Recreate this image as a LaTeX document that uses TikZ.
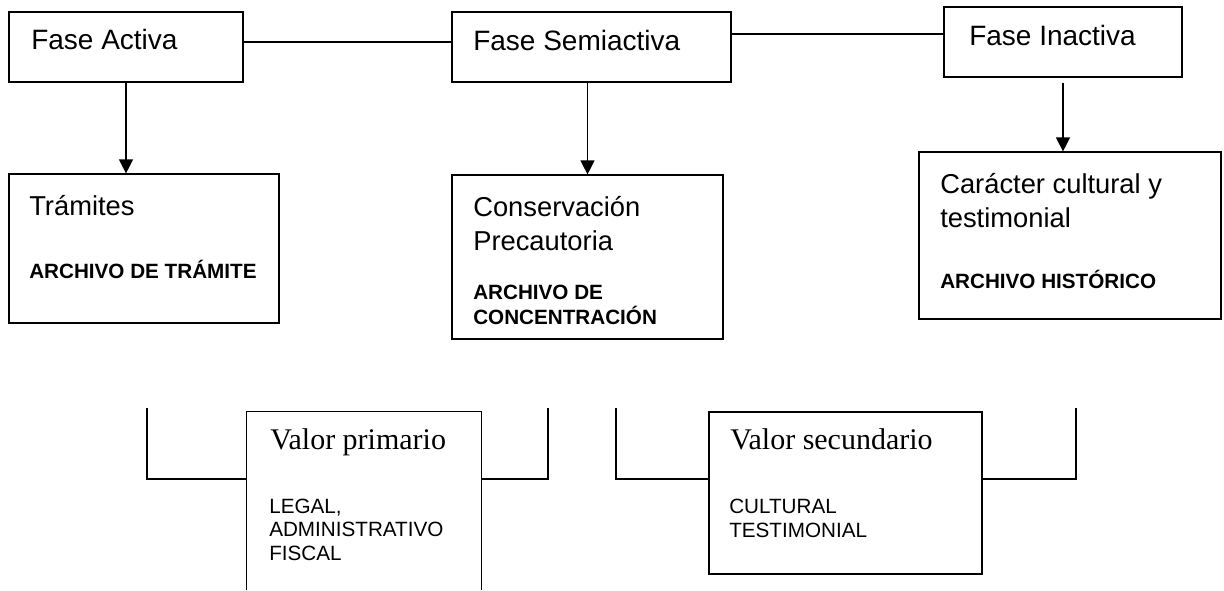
\documentclass[tikz,border=0pt]{standalone}
\usepackage{fontspec}
\setmainfont{Liberation Serif}
\setsansfont{Liberation Sans}
\usetikzlibrary{arrows.meta}
\usetikzlibrary{fit}

\tikzset{
  caja/.style={draw, line width=0.9pt, inner sep=0pt},
  linea/.style={line width=0.9pt},
  flecha/.style={line width=0.9pt, -{Triangle[length=10.5pt,width=10.5pt]}},
  fase/.style={anchor=base west, inner sep=0pt, font=\sffamily\fontsize{21}{26}\selectfont},
  titulo/.style={anchor=base west, inner sep=0pt, align=left, font=\sffamily\fontsize{20.5}{25.5}\selectfont},
  archivo/.style={anchor=base west, inner sep=0pt, align=left, font=\sffamily\bfseries\fontsize{15.5}{18.75}\selectfont},
  valor/.style={anchor=base west, inner sep=0pt, font=\rmfamily\fontsize{22.5}{26}\selectfont},
  detalle/.style={anchor=base west, inner sep=0pt, align=left, font=\sffamily\fontsize{15.5}{17.5}\selectfont}
}

\begin{document}
\begin{tikzpicture}[x=0.75pt,y=0.75pt,yscale=-1,xscale=1]
	\useasboundingbox (0,0) rectangle (1224,590);

	%Shape: Rectangle [fases]
	\node (activa) [caja, fit={(9,12) (243,82)}] {};
	\node (semiactiva) [caja, fit={(452,12) (731,82)}] {};
	\node (inactiva) [caja, fit={(944,7) (1182,77)}] {};
	%Shape: Rectangle [archivos]
	\node (tramites) [caja, fit={(9,174) (279,323)}] {};
	\node (concentracion) [caja, fit={(452,175) (723,339)}] {};
	\node (historico) [caja, fit={(919,152) (1221,319)}] {};
	%Shape: Rectangle [valores]
	\node (primario) [inner sep=0pt, fit={(247,412) (481,590)}] {};
	\draw [linea] (primario.south west) |- (primario.north east) -- (primario.south east);
	\node (secundario) [caja, fit={(709,412) (982,574)}] {};

	%Straight Lines [entre fases]
	\draw [linea] ([yshift=-3.75pt]activa.east) -- ([yshift=-3.75pt]semiactiva.west);
	\draw [linea] ([yshift=-9.75pt]semiactiva.east) -- ([yshift=-6pt]inactiva.west);
	%Straight Lines [flechas]
	\draw [flecha] (activa.south) -- (activa.south |- tramites.north);
	\draw [flecha] (concentracion.north |- semiactiva.south) -- (concentracion.north);
	\draw [flecha] ([yshift=3.75pt]inactiva.south) -- (inactiva.south |- historico.north);

	%Straight Lines [corchetes]
	\coordinate (c1) at (147,408);
	\coordinate (c2) at (548,408);
	\coordinate (c3) at (616,408);
	\coordinate (c4) at (1076,408);
	\draw [linea] (c1) |- (primario.west |- 0,479);
	\draw [linea] (primario.east |- 0,479) -| (c2);
	\draw [linea] (c3) |- (secundario.west |- 0,479);
	\draw [linea] (secundario.east |- 0,479) -| (c4);

	% Text Node
	\node (tactiva) [fase] at (31,49) {Fase Activa};
	% Text Node
	\node (tsemi) [fase] at (473,50) {Fase Semiactiva};
	% Text Node
	\node (tinactiva) [fase] at (969,45) {Fase Inactiva};
	% Text Node
	\node (ttramites) [titulo] at (29,215) {Trámites};
	\node (atramite) [archivo] at (29,278) {ARCHIVO DE TRÁMITE};
	% Text Node
	\node (tconserv) [titulo] at (473,250) {Conservación\\Precautoria};
	\node (aconcen) [archivo] at (473,324) {ARCHIVO DE\\CONCENTRACIÓN};
	% Text Node
	\node (tcaracter) [titulo] at (940,227) {Carácter cultural y\\testimonial};
	\node (ahistorico) [archivo] at (940,288) {ARCHIVO HISTÓRICO};
	% Text Node
	\node (tprimario) [valor] at (270,449) {Valor primario};
	\node (dprimario) [detalle] at (269,560) {LEGAL,\\ADMINISTRATIVO\\FISCAL};
	% Text Node
	\node (tsecundario) [valor] at (730,449) {Valor secundario};
	\node (dsecundario) [detalle] at (729,537) {CULTURAL\\TESTIMONIAL};

\end{tikzpicture}
\end{document}
